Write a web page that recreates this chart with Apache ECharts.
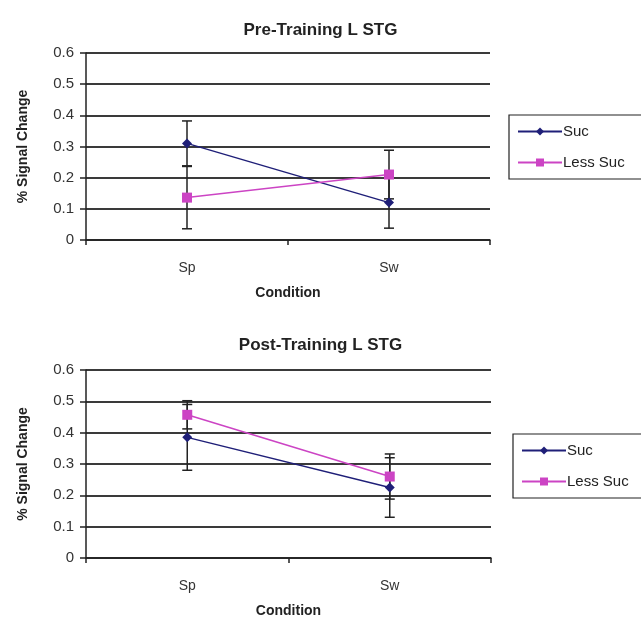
<!DOCTYPE html>
<html>
<head>
<meta charset="utf-8">
<script src="https://cdn.jsdelivr.net/npm/echarts@6/dist/echarts.min.js"></script>
<style>
  html, body { margin: 0; padding: 0; background: #fff; }
  #chart { width: 641px; height: 619px; }
</style>
</head>
<body>
<div id="chart"></div>
<script>
// ---- data ----
const categories = ['Sp', 'Sw'];
const seriesNames = ['Suc', 'Less Suc'];
const titles = ['Pre-Training L STG', 'Post-Training L STG'];
const yTicks = [0, 0.1, 0.2, 0.3, 0.4, 0.5, 0.6];

const preSucMean = [0.31, 0.12];
const preSucErr = [0.072, 0.082];
const preLessMean = [0.136, 0.21];
const preLessErr = [0.1, 0.078];

const postSucMean = [0.385, 0.225];
const postSucErr = [0.105, 0.095];
const postLessMean = [0.457, 0.26];
const postLessErr = [0.045, 0.072];

const SUC_COLOR = '#1f1f78';
const LESS_COLOR = '#cc44c4';
const FONT = 'Liberation Sans, Arial, sans-serif';

function errData(mean, err) {
  return mean.map((m, i) => [i, m - err[i], m + err[i]]);
}

function errSeries(xi, mean, err) {
  return {
    type: 'custom',
    xAxisIndex: xi, yAxisIndex: xi,
    z: 1,
    silent: true,
    data: errData(mean, err),
    renderItem: function (params, api) {
      const x = api.value(0);
      const lo = api.coord([x, api.value(1)]);
      const hi = api.coord([x, api.value(2)]);
      const half = 5;
      const st = { stroke: '#222', lineWidth: 1.5 };
      return {
        type: 'group',
        children: [
          { type: 'line', shape: { x1: hi[0], y1: hi[1], x2: lo[0], y2: lo[1] }, style: st },
          { type: 'line', shape: { x1: hi[0] - half, y1: hi[1], x2: hi[0] + half, y2: hi[1] }, style: st },
          { type: 'line', shape: { x1: lo[0] - half, y1: lo[1], x2: lo[0] + half, y2: lo[1] }, style: st }
        ]
      };
    }
  };
}

function lineSeries(xi, name, data, color, symbol, size) {
  return {
    type: 'line', name: name, data: data,
    xAxisIndex: xi, yAxisIndex: xi,
    z: 3,
    symbol: symbol, symbolSize: size,
    lineStyle: { color: color, width: 1.5 },
    itemStyle: { color: color },
    animation: false
  };
}

function xAxisCfg(gi) {
  return {
    type: 'category', gridIndex: gi, data: categories,
    boundaryGap: true,
    name: 'Condition', nameLocation: 'middle', nameGap: 46,
    nameTextStyle: { fontFamily: FONT, fontWeight: 'bold', fontSize: 14, color: '#222' },
    axisLine: { lineStyle: { color: '#222', width: 1.5 } },
    axisTick: { show: true, inside: false, length: 5, alignWithLabel: false, lineStyle: { color: '#222', width: 1.5 } },
    axisLabel: { fontFamily: FONT, fontSize: 14, color: '#333', margin: 21 },
    splitLine: { show: false }
  };
}

function yAxisCfg(gi) {
  return {
    type: 'value', gridIndex: gi, min: 0, max: 0.6, interval: 0.1,
    name: '% Signal Change', nameLocation: 'middle', nameGap: 56, nameRotate: 90,
    nameTextStyle: { fontFamily: FONT, fontWeight: 'bold', fontSize: 14, color: '#222' },
    axisLine: { show: true, lineStyle: { color: '#222', width: 1.5 } },
    axisTick: { show: true, length: 6, lineStyle: { color: '#222', width: 1.5 } },
    axisLabel: {
      fontFamily: FONT, fontSize: 15, color: '#333', margin: 12,
      formatter: function (v) {
        const t = yTicks.find(k => Math.abs(k - v) < 1e-9);
        return t === undefined ? '' : String(t);
      }
    },
    splitLine: { show: true, lineStyle: { color: '#3a3a3a', width: 2 } }
  };
}

function legendCfg(left, top) {
  return {
    orient: 'vertical', left: left, top: top,
    data: seriesNames,
    itemWidth: 44, itemHeight: 10, itemGap: 16,
    padding: [9, 40, 9, 8],
    borderColor: '#222', borderWidth: 1.2,
    backgroundColor: '#fff',
    textStyle: { fontFamily: FONT, fontSize: 15, color: '#222', padding: [0, 0, 0, -4] },
    selectedMode: false
  };
}

const chart = echarts.init(document.getElementById('chart'), null, { renderer: 'canvas' });
chart.setOption({
  animation: false,
  backgroundColor: '#fff',
  title: [
    { text: titles[0], left: 'center', top: 17, textStyle: { fontFamily: FONT, fontWeight: 'bold', fontSize: 17, color: '#222' } },
    { text: titles[1], left: 'center', top: 332, textStyle: { fontFamily: FONT, fontWeight: 'bold', fontSize: 17, color: '#222' } }
  ],
  legend: [legendCfg(509, 115), legendCfg(513, 434)],
  grid: [
    { left: 86, top: 53, width: 404, height: 187 },
    { left: 86, top: 370, width: 405, height: 189 }
  ],
  xAxis: [xAxisCfg(0), xAxisCfg(1)],
  yAxis: [yAxisCfg(0), yAxisCfg(1)],
  series: [
    errSeries(0, preSucMean, preSucErr),
    errSeries(0, preLessMean, preLessErr),
    lineSeries(0, seriesNames[0], preSucMean, SUC_COLOR, 'diamond', 10),
    lineSeries(0, seriesNames[1], preLessMean, LESS_COLOR, 'rect', 10),
    errSeries(1, postSucMean, postSucErr),
    errSeries(1, postLessMean, postLessErr),
    lineSeries(1, seriesNames[0], postSucMean, SUC_COLOR, 'diamond', 10),
    lineSeries(1, seriesNames[1], postLessMean, LESS_COLOR, 'rect', 10)
  ]
});
</script>
</body>
</html>
